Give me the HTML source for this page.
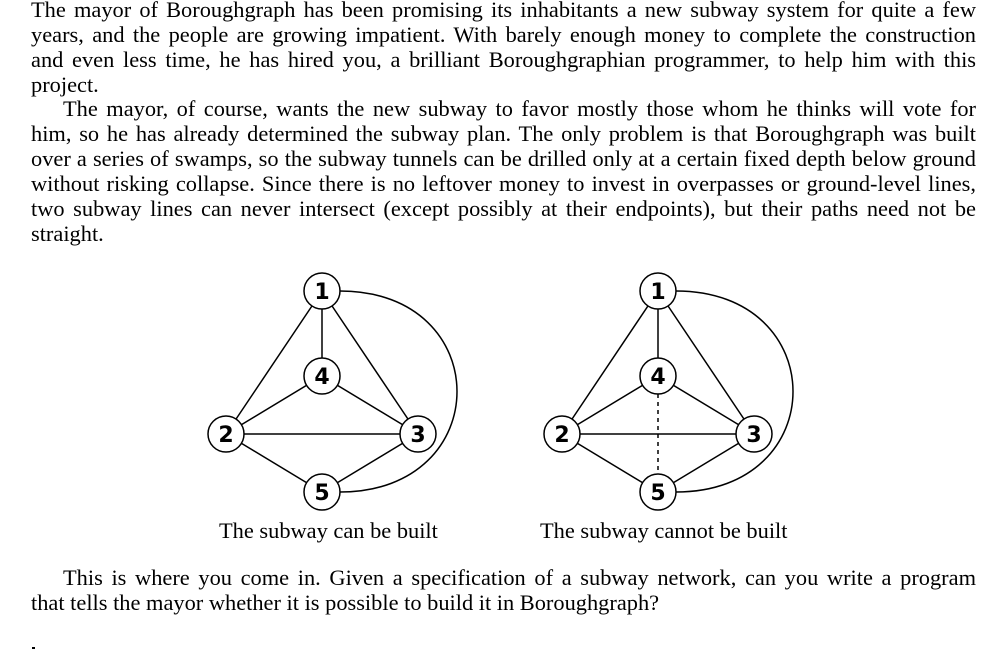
<!DOCTYPE html>
<html><head><meta charset="utf-8"><style>
body{margin:0;width:1006px;height:650px;background:#fff;position:relative;overflow:hidden;font-family:"Liberation Serif",serif;font-size:22.4px;color:#000}
.l{position:absolute;left:31px;width:945px;white-space:nowrap;text-align:justify;text-align-last:justify;line-height:25px}
.n{text-align-last:left}
.cap{position:absolute;font-size:22.4px;white-space:nowrap;line-height:25px}
svg{position:absolute;left:0;top:0}
</style></head><body>
<div class="l" style="top:-3px">The mayor of Boroughgraph has been promising its inhabitants a new subway system for quite a few</div>
<div class="l" style="top:22px">years, and the people are growing impatient. With barely enough money to complete the construction</div>
<div class="l" style="top:47px">and even less time, he has hired you, a brilliant Boroughgraphian programmer, to help him with this</div>
<div class="l n" style="top:72px">project.</div>
<div class="l" style="top:96px;left:63px;width:913px">The mayor, of course, wants the new subway to favor mostly those whom he thinks will vote for</div>
<div class="l" style="top:121px">him, so he has already determined the subway plan. The only problem is that Boroughgraph was built</div>
<div class="l" style="top:146px">over a series of swamps, so the subway tunnels can be drilled only at a certain fixed depth below ground</div>
<div class="l" style="top:171px">without risking collapse. Since there is no leftover money to invest in overpasses or ground-level lines,</div>
<div class="l" style="top:196px">two subway lines can never intersect (except possibly at their endpoints), but their paths need not be</div>
<div class="l n" style="top:221px">straight.</div>
<svg width="1006" height="650" font-family="DejaVu Sans,sans-serif" font-weight="bold" font-size="22">
<g stroke="#000" stroke-width="1.5" fill="none">
<g>
<line x1="322" y1="291" x2="226" y2="434"/><line x1="322" y1="291" x2="322" y2="376"/><line x1="322" y1="291" x2="418" y2="434"/>
<line x1="322" y1="376" x2="226" y2="434"/><line x1="322" y1="376" x2="418" y2="434"/><line x1="226" y1="434" x2="418" y2="434"/>
<line x1="226" y1="434" x2="322" y2="492"/><line x1="418" y1="434" x2="322" y2="492"/>
<path d="M340,291 C496,291 496,492 340,492"/>
</g>
<g transform="translate(336,0)">
<line x1="322" y1="291" x2="226" y2="434"/><line x1="322" y1="291" x2="322" y2="376"/><line x1="322" y1="291" x2="418" y2="434"/>
<line x1="322" y1="376" x2="226" y2="434"/><line x1="322" y1="376" x2="418" y2="434"/><line x1="226" y1="434" x2="418" y2="434"/>
<line x1="226" y1="434" x2="322" y2="492"/><line x1="418" y1="434" x2="322" y2="492"/>
<path d="M340,291 C496,291 496,492 340,492"/>
<line x1="322" y1="394" x2="322" y2="474" stroke-dasharray="4,4"/>
</g>
</g>
<g fill="#fff" stroke="#000" stroke-width="1.5">
<circle cx="322" cy="291" r="18"/><circle cx="322" cy="376" r="18"/><circle cx="226" cy="434" r="18"/><circle cx="418" cy="434" r="18"/><circle cx="322" cy="492" r="18"/>
<circle cx="658" cy="291" r="18"/><circle cx="658" cy="376" r="18"/><circle cx="562" cy="434" r="18"/><circle cx="754" cy="434" r="18"/><circle cx="658" cy="492" r="18"/>
</g>
<g text-anchor="middle">
<text x="322" y="299">1</text><text x="322" y="384">4</text><text x="226" y="442">2</text><text x="418" y="442">3</text><text x="322" y="500">5</text>
<text x="658" y="299">1</text><text x="658" y="384">4</text><text x="562" y="442">2</text><text x="754" y="442">3</text><text x="658" y="500">5</text>
</g>
<rect x="32" y="647" width="3" height="2" fill="#000"/>
</svg>
<div class="cap" style="left:219px;top:518px">The subway can be built</div>
<div class="cap" style="left:540px;top:518px">The subway cannot be built</div>
<div class="l" style="top:565px;left:63px;width:913px">This is where you come in. Given a specification of a subway network, can you write a program</div>
<div class="l n" style="top:590px">that tells the mayor whether it is possible to build it in Boroughgraph?</div>
</body></html>
